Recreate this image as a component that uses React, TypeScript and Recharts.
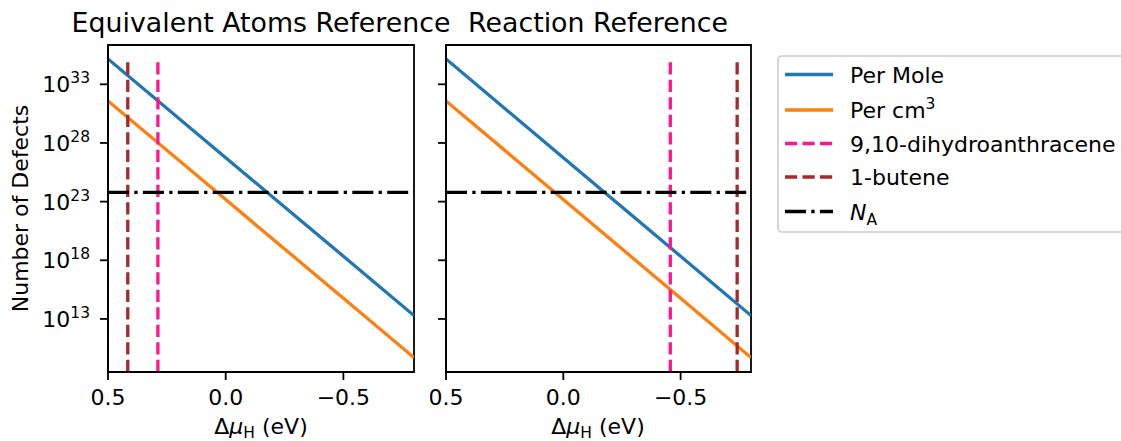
import React from 'react';
import { LineChart, Line, XAxis, YAxis, ReferenceLine, ReferenceArea } from 'recharts';

// ---- data ----
const muValues = [0.5, 0.0, -0.5, -0.8];
const perMole = [1.45e35, 5.6e26, 2.2e18, 1.95e13];
const perCm3 = [3.8e31, 1.5e23, 5.8e14, 5.1e9];
const avogadro = 6.022e23;

const panelTitles = ['Equivalent Atoms Reference', 'Reaction Reference'];
const dihydroanthraceneMu = [0.288, -0.456];
const buteneMu = [0.416, -0.741];
const refLineTop = 8.5e34;

const xTicks = [0.5, 0.0, -0.5];
const yTicks = [1e13, 1e18, 1e23, 1e28, 1e33];
const yTickExponents = ['13', '18', '23', '28', '33'];

const legendLabels = ['Per Mole', 'Per cm', '9,10-dihydroanthracene', '1-butene', 'N'];

const xDomain = [-0.8, 0.5];
const yDomain = [3.0e8, 2.24e36];

const FONT = 'DejaVu Sans, sans-serif';
const BLUE = '#1f77b4';
const ORANGE = '#ff7f0e';
const PINK = '#ff1493';
const BROWN = '#a52a2a';

const LW = 3.3;
const DASH = '12.2 5.3';
const DASHDOT = '21 5.3 3.3 5.3';

const data = muValues.map((mu, i) => ({ mu, perMole: perMole[i], perCm3: perCm3[i] }));

const fmtX = (v: number) => (v < 0 ? '\u2212' + Math.abs(v).toFixed(1) : v.toFixed(1));

const XTick = (props: any) => {
  const { x, payload } = props;
  return (
    <text x={x} y={405} textAnchor="middle" fontFamily={FONT} fontSize={22} fill="#000">
      {fmtX(payload.value)}
    </text>
  );
};

const YTick = (props: any) => {
  const { x, y, payload } = props;
  const idx = yTicks.indexOf(payload.value);
  return (
    <text x={x} y={y + 8} textAnchor="end" fontFamily={FONT} fontSize={22} fill="#000">
      <tspan>10</tspan>
      <tspan dy={-9} fontSize={15.5}>{yTickExponents[idx]}</tspan>
    </text>
  );
};

const EmptyTick = () => <g />;

const axisStroke = { stroke: '#000', strokeWidth: 1.8 };

function Panel({ panel, showYLabels }: { panel: number; showYLabels: boolean }) {
  const width = showYLabels ? 430 : 340;
  const yWidth = showYLabels ? 108 : 16;
  const right = showYLabels ? 16 : 19;
  return (
    <LineChart
      width={width}
      height={441}
      data={data}
      margin={{ top: 45, right, left: 0, bottom: 0 }}
    >
      <XAxis
        dataKey="mu"
        type="number"
        domain={xDomain}
        reversed
        allowDataOverflow
        ticks={xTicks}
        height={69}
        tickSize={8}
        tick={<XTick />}
        axisLine={axisStroke}
        tickLine={axisStroke}
      />
      <YAxis
        type="number"
        scale="log"
        domain={yDomain}
        allowDataOverflow
        ticks={yTicks}
        width={yWidth}
        tickSize={8}
        tickMargin={10}
        tick={showYLabels ? <YTick /> : <EmptyTick />}
        axisLine={axisStroke}
        tickLine={axisStroke}
      />
      <Line
        type="linear"
        dataKey="perMole"
        stroke={BLUE}
        strokeWidth={LW}
        dot={false}
        isAnimationActive={false}
      />
      <Line
        type="linear"
        dataKey="perCm3"
        stroke={ORANGE}
        strokeWidth={LW}
        dot={false}
        isAnimationActive={false}
      />
      <ReferenceLine
        segment={[
          { x: dihydroanthraceneMu[panel], y: yDomain[0] },
          { x: dihydroanthraceneMu[panel], y: refLineTop },
        ]}
        stroke={PINK}
        strokeWidth={LW}
        strokeDasharray={DASH}
        ifOverflow="visible"
      />
      <ReferenceLine
        segment={[
          { x: buteneMu[panel], y: yDomain[0] },
          { x: buteneMu[panel], y: refLineTop },
        ]}
        stroke={BROWN}
        strokeWidth={LW}
        strokeDasharray={DASH}
        ifOverflow="visible"
      />
      <ReferenceLine
        y={avogadro}
        stroke="#000"
        strokeWidth={LW}
        strokeDasharray={DASHDOT}
      />
      <ReferenceArea
        x1={xDomain[1]}
        x2={xDomain[0]}
        y1={yDomain[0]}
        y2={yDomain[1]}
        fill="none"
        fillOpacity={0}
        stroke="#000"
        strokeWidth={1.8}
        ifOverflow="visible"
      />
    </LineChart>
  );
}

function Overlay() {
  const rows = [74.5, 110, 143.5, 177, 211.5];
  const samples = [
    { color: BLUE, dash: undefined },
    { color: ORANGE, dash: undefined },
    { color: PINK, dash: DASH },
    { color: BROWN, dash: DASH },
    { color: '#000', dash: DASHDOT },
  ];
  const xLabel = (cx: number) => (
    <text x={cx} y={434} textAnchor="middle" fontFamily={FONT} fontSize={22} fill="#000" style={{ whiteSpace: 'pre' }}>
      <tspan>Δ</tspan>
      <tspan fontStyle="italic">μ</tspan>
      <tspan dy={4} fontSize={15.5}>H</tspan>
      <tspan dy={-4}>{' (eV)'}</tspan>
    </text>
  );
  return (
    <svg
      width={1121}
      height={441}
      style={{ position: 'absolute', left: 0, top: 0, pointerEvents: 'none' }}
    >
      <text x={261} y={31.5} textAnchor="middle" fontFamily={FONT} fontSize={26.8} fill="#000">
        {panelTitles[0]}
      </text>
      <text x={598} y={31.5} textAnchor="middle" fontFamily={FONT} fontSize={26.8} fill="#000">
        {panelTitles[1]}
      </text>
      <text
        x={28}
        y={208.5}
        textAnchor="middle"
        fontFamily={FONT}
        fontSize={22}
        fill="#000"
        transform="rotate(-90, 28, 208.5)"
      >
        Number of Defects
      </text>
      {xLabel(261)}
      {xLabel(598)}
      <rect x={778} y={56} width={400} height={176} rx={4} ry={4} fill="#fff" stroke="#cccccc" strokeWidth={1.6} />
      {rows.map((ry, i) => (
        <g key={i}>
          <line
            x1={785}
            x2={833}
            y1={ry}
            y2={ry}
            stroke={samples[i].color}
            strokeWidth={LW}
            strokeDasharray={samples[i].dash}
          />
          <text x={850} y={ry + 8} fontFamily={FONT} fontSize={22} fill="#000">
            {i === 4 ? (
              <>
                <tspan fontStyle="italic">{legendLabels[i]}</tspan>
                <tspan dy={5} fontSize={15.5}>A</tspan>
              </>
            ) : i === 1 ? (
              <>
                <tspan>{legendLabels[i]}</tspan>
                <tspan dy={-9} fontSize={15.5}>3</tspan>
              </>
            ) : (
              legendLabels[i]
            )}
          </text>
        </g>
      ))}
    </svg>
  );
}

export default function App() {
  return (
    <div style={{ position: 'absolute', left: 0, top: 0, width: 1121, height: 441, background: '#fff', overflow: 'hidden' }}>
      <div style={{ position: 'absolute', left: 0, top: 0 }}>
        <Panel panel={0} showYLabels={true} />
      </div>
      <div style={{ position: 'absolute', left: 430, top: 0 }}>
        <Panel panel={1} showYLabels={false} />
      </div>
      <Overlay />
    </div>
  );
}
